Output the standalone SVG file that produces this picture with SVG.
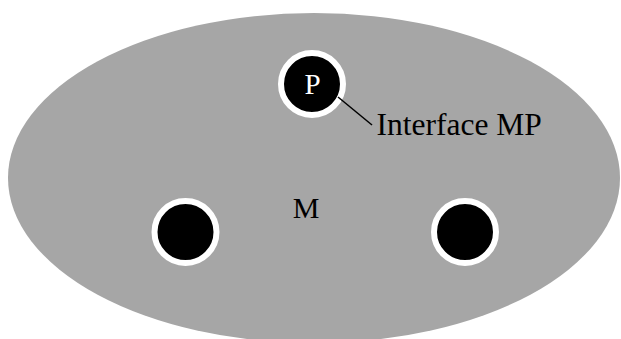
<svg xmlns="http://www.w3.org/2000/svg" width="621" height="339" viewBox="0 0 621 339">
  <style>
    .region { fill: #a6a6a6; }
    .port { fill: #000; stroke: #fff; stroke-width: 6; }
    .lbl { font-family: "Liberation Serif", "Times New Roman", serif; }
    .link { stroke: #000; stroke-width: 1.5; fill: none; }
  </style>
  <rect width="621" height="339" fill="#fff"/>
  <g id="region-M">
    <ellipse class="region" cx="314" cy="178" rx="306" ry="165"/>
    <text class="lbl" x="306" y="218" font-size="30" text-anchor="middle" fill="#000">M</text>
  </g>
  <g id="port-P">
    <circle class="port" cx="312" cy="84" r="31"/>
    <text class="lbl" x="312.5" y="94" font-size="29" text-anchor="middle" fill="#fff">P</text>
  </g>
  <g id="port-left">
    <circle class="port" cx="185.5" cy="232" r="31"/>
  </g>
  <g id="port-right">
    <circle class="port" cx="465" cy="232" r="31"/>
  </g>
  <g id="connectors">
    <line class="link" x1="338" y1="97" x2="372" y2="125"/>
  </g>
  <g id="label-interface">
    <text class="lbl" x="376.5" y="135" font-size="31.5" fill="#000">Interface MP</text>
  </g>
</svg>
